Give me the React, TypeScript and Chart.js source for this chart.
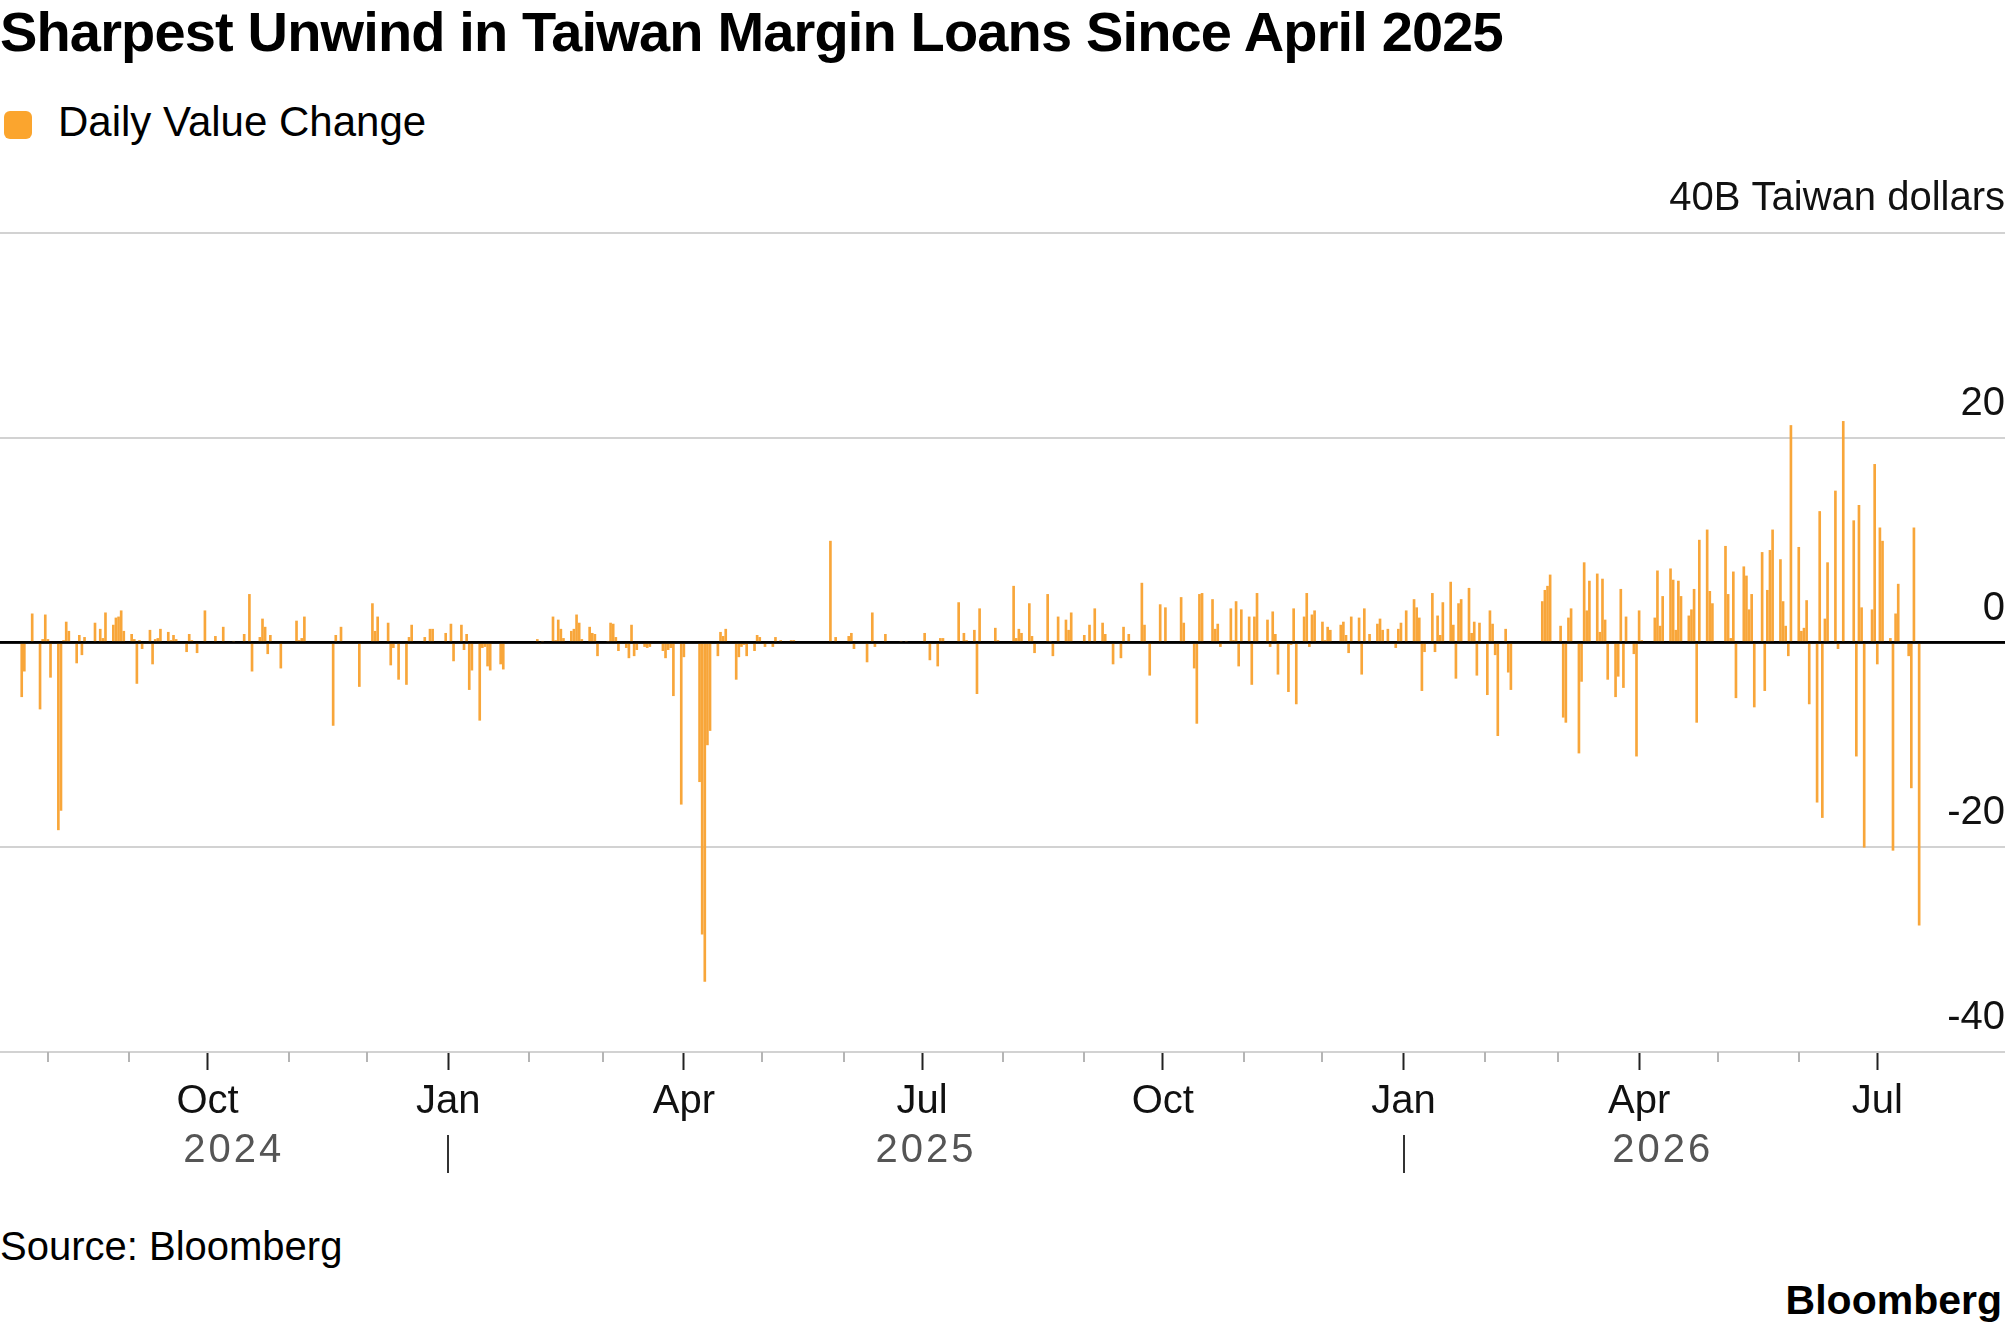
import React, { useEffect, useRef } from "react";
import { Chart, registerables } from "chart.js";

Chart.register(...registerables);

// ---- Data: [days since 2024-08-01, daily change in billions of Taiwan dollars] ----
const baseDate = "2024-08-01";

const bars2024: [number, number][] = [
  [-10, -5.3], [-9, -2.8], [-6, 2.8], [-3, -6.5], [-2, 0.3], [-1, 2.7], [0, 0.3], [1, -3.4],
  [4, -18.3], [5, -16.4], [6, 0.2], [7, 2.0], [8, 1.1], [11, -2.0], [12, 0.7], [13, -1.2], [14, 0.5],
  [18, 1.9], [20, 1.3], [21, 0.4], [22, 2.9], [25, 1.7], [26, 2.4], [27, 2.5], [28, 3.1], [29, 1.1],
  [32, 0.8], [33, 0.3], [34, -4.0], [35, 0.2], [36, -0.6], [39, 1.2], [40, -2.1], [41, 0.3], [42, 0.4],
  [43, 1.3], [46, 1.0], [47, 0.2], [48, 0.7], [49, 0.3], [53, -0.9], [54, 0.8], [55, 0.2], [57, -1.0],
  [60, 3.1], [64, 0.6], [67, 1.5], [71, 0.1], [75, 0.8], [77, 4.7], [78, -2.8], [81, 0.5], [82, 2.3],
  [83, 1.5], [84, -1.1], [85, 0.7], [89, -2.5], [95, 2.1], [96, 0.2], [97, 0.4], [98, 2.5],
  [109, -8.1], [110, 0.7], [112, 1.5], [119, -4.3], [124, 3.8], [125, 1.1], [126, 2.5], [130, 1.9],
  [131, -2.2], [132, -0.5], [134, -3.6], [137, -4.1], [138, 0.5], [139, 1.7], [144, 0.5], [146, 1.3],
  [147, 1.3], [152, 0.9],
];

const bars2025H1: [number, number][] = [
  [154, 1.8], [155, -1.8], [158, 1.7], [159, -0.7], [160, 0.8], [161, -4.6], [162, -2.7], [165, -7.6],
  [166, -0.5], [167, -0.4], [168, -2.3], [169, -2.7], [173, -2.1], [174, -2.6], [187, 0.3], [188, -0.1],
  [189, 0.1], [193, 2.5], [194, 0.2], [195, 2.2], [196, 1.3], [197, 0.4], [200, 1.1], [201, 1.3],
  [202, 2.7], [203, 1.9], [204, 0.3], [207, 1.5], [208, 0.9], [209, 0.8], [210, -1.3], [214, 0.1],
  [215, 1.9], [216, 1.8], [217, 0.5], [218, -0.8], [221, -0.5], [222, -1.5], [223, 1.7], [224, -1.3],
  [225, -0.7], [228, -0.4], [229, -0.5], [230, -0.4], [235, -0.8], [236, -1.5], [237, -0.7], [238, -0.5],
  [239, -5.2], [242, -15.8], [243, -1.4], [249, -13.6], [250, -28.5], [251, -33.1], [252, -10.0],
  [253, -8.6], [256, -1.3], [257, 1.0], [258, 0.6], [259, 1.3], [263, -3.6], [264, -1.4], [265, -0.4],
  [266, -0.2], [267, -1.3], [270, -0.8], [271, 0.7], [272, 0.5], [274, -0.4], [277, -0.4], [278, 0.5],
  [280, 0.2], [284, 0.2], [285, 0.2], [299, 9.9], [301, 0.5], [306, 0.6], [307, 0.9], [308, -0.6],
  [313, -1.9], [315, 2.9], [316, -0.4], [320, 0.8], [326, 0.1], [328, 0.1],
];

const bars2025H2: [number, number][] = [
  [335, 0.9], [337, -1.7], [340, -2.3], [341, 0.4], [342, 0.4], [348, 3.9], [350, 0.9], [351, 0.2],
  [354, 1.2], [355, -5.0], [356, 3.3], [362, 1.4], [363, 0.2], [369, 5.5], [370, 0.4], [371, 1.3],
  [372, 0.9], [375, 3.8], [376, 0.6], [377, -1.0], [382, 4.7], [383, 0.1], [384, -1.3], [386, 2.5],
  [389, 2.2], [390, 1.2], [391, 2.9], [396, 0.7], [398, 1.7], [400, 3.3], [403, 1.9], [404, 0.8],
  [407, -2.1], [410, -1.5], [411, 1.5], [413, 0.8], [418, 5.8], [419, 1.7], [421, -3.2], [425, 3.7],
  [427, 3.4], [433, 4.4], [434, 1.9], [438, -2.5], [439, -7.9], [440, 4.7], [441, 4.8], [445, 4.2],
  [446, 1.3], [447, 1.8], [448, -0.4], [452, 3.3], [453, 0.2], [454, 4.0], [455, -2.3], [456, 3.2],
  [459, 2.5], [460, -4.1], [461, 2.5], [462, 4.8], [466, 2.2], [467, -0.4], [468, 3.0], [469, 0.8],
  [470, -3.1], [474, -4.8], [475, -0.2], [476, 3.3], [477, -6.0], [480, 2.5], [481, 4.8], [482, -0.4],
  [483, 2.7], [484, 3.1], [487, 2.0], [488, 0.2], [489, 1.5], [490, 1.2], [494, 1.7], [495, 2.0],
  [496, 0.7], [497, -1.0], [498, 2.5], [501, 2.4], [502, -3.1], [503, 3.3], [505, 0.8], [508, 1.8],
  [509, 2.3], [510, 1.2], [512, 1.3], [515, -0.5], [516, 1.3], [517, 1.9],
];

const bars2026: [number, number][] = [
  [519, 3.1], [522, 4.2], [523, 3.4], [524, 2.4], [525, -4.7], [526, -0.9], [529, 4.8], [530, -0.9],
  [531, 2.6], [532, 0.7], [533, 3.9], [536, 5.9], [537, 1.7], [538, -3.5], [539, 3.8], [540, 4.2],
  [543, 5.3], [544, 0.9], [545, 2.0], [546, -3.2], [547, 1.9], [550, -5.1], [551, 3.1], [552, 1.8],
  [553, -1.2], [554, -9.1], [557, 1.3], [558, -2.9], [559, -4.6], [571, 4.0], [572, 5.1], [573, 5.5],
  [574, 6.6], [578, 1.6], [579, -7.3], [580, -7.8], [581, 2.4], [582, 3.3], [585, -10.8], [586, -3.8],
  [587, 7.8], [588, 3.1], [589, 6.0], [592, 6.7], [593, 1.0], [594, 6.2], [595, 2.2], [596, -3.6],
  [599, -5.3], [600, -3.3], [601, 5.2], [602, -4.4], [603, 2.5], [606, -1.1], [607, -11.1], [608, 3.1],
  [609, 0.2], [614, 2.4], [615, 7.0], [616, 1.6], [617, 4.5], [620, 7.2], [621, 6.1], [622, 1.2],
  [623, 6.0], [624, 4.5], [627, 2.6], [628, 3.2], [629, 5.2], [630, -7.8], [631, 10.0], [634, 11.0],
  [635, 5.0], [636, 3.8], [641, 9.4], [642, 4.7], [643, 0.4], [644, 6.9], [645, -5.4], [648, 7.4],
  [649, 6.5], [650, 3.2], [651, 4.7], [652, -6.3], [655, 8.8], [656, -4.7], [657, 5.1], [658, 9.0],
  [659, 11.0], [662, 8.1], [663, 4.0], [664, 1.6], [665, -1.3], [666, 21.2], [669, 9.3], [670, 1.1],
  [671, 1.4], [672, 4.1], [673, -6.0], [676, -15.6], [677, 12.8], [678, -17.1], [679, 2.3], [680, 7.8],
  [683, 14.8], [684, -0.6], [686, 21.6], [690, 11.9], [691, -11.1], [692, 13.4], [693, 3.4], [694, -20.0],
  [697, 3.2], [698, 17.4], [699, -2.1], [700, 11.2], [701, 9.9], [704, 0.4], [705, -20.3], [706, 2.8],
  [707, 5.7], [711, -1.3], [712, -14.2], [713, 11.2], [715, -27.6],
];

// ---- Axis text ----
const monthTicks = [
  "2024-08-01", "2024-09-01", "2024-10-01", "2024-11-01", "2024-12-01",
  "2025-01-01", "2025-02-01", "2025-03-01", "2025-04-01", "2025-05-01", "2025-06-01", "2025-07-01",
  "2025-08-01", "2025-09-01", "2025-10-01", "2025-11-01", "2025-12-01",
  "2026-01-01", "2026-02-01", "2026-03-01", "2026-04-01", "2026-05-01", "2026-06-01", "2026-07-01",
];
const monthLabels = [
  "", "", "Oct", "", "",
  "Jan", "", "", "Apr", "", "", "Jul",
  "", "", "Oct", "", "",
  "Jan", "", "", "Apr", "", "", "Jul",
];
const yearLabels = ["2024", "2025", "2026"];
const yearStarts = ["2024-01-01", "2025-01-01", "2026-01-01", "2027-01-01"];
const yTicks = [-40, -20, 0, 20, 40];
const yUnitLabel = "40B Taiwan dollars";
const title = "Sharpest Unwind in Taiwan Margin Loans Since April 2025";
const seriesName = "Daily Value Change";
const sourceText = "Source: Bloomberg";
const brandText = "Bloomberg";

const FONT = '"Liberation Sans", Arial, Helvetica, sans-serif';
const BAR = "#F8A63A";

const dayOf = (iso: string) =>
  Math.round((Date.parse(iso + "T00:00:00Z") - Date.parse(baseDate + "T00:00:00Z")) / 86400000);

export default function App() {
  const ref = useRef<HTMLCanvasElement | null>(null);

  useEffect(() => {
    if (!ref.current) return;
    const allBars = [...bars2024, ...bars2025H1, ...bars2025H2, ...bars2026];
    const monthDays = monthTicks.map(dayOf);
    const yearBounds = yearStarts.map(dayOf);

    // year label centres = middle of each year's data span
    const yearCenters = yearLabels.map((_, i) => {
      const inYear = allBars.filter(([d]) => d >= yearBounds[i] && d < yearBounds[i + 1]).map(([d]) => d);
      return (Math.min(...inYear) + Math.max(...inYear)) / 2;
    });

    const overlay = {
      id: "overlay",
      afterDatasetsDraw(chart: any) {
        const { ctx, chartArea, scales } = chart;
        const y0 = scales.y.getPixelForValue(0);
        ctx.save();
        ctx.strokeStyle = "#000";
        ctx.lineWidth = 2.5;
        ctx.beginPath();
        ctx.moveTo(chartArea.left, y0);
        ctx.lineTo(chartArea.right, y0);
        ctx.stroke();
        ctx.restore();
      },
      afterDraw(chart: any) {
        const { ctx, chartArea, scales } = chart;
        const xs = scales.x;
        const b = chartArea.bottom;
        ctx.save();
        // minor month ticks
        ctx.strokeStyle = "#b5b5b5";
        ctx.lineWidth = 2;
        monthDays.forEach((d, i) => {
          if (monthLabels[i]) return;
          const px = Math.round(xs.getPixelForValue(d));
          ctx.beginPath();
          ctx.moveTo(px, b);
          ctx.lineTo(px, b + 10);
          ctx.stroke();
        });
        // year separators
        ctx.strokeStyle = "#333";
        ctx.lineWidth = 2;
        yearBounds.slice(1, 3).forEach((d) => {
          const px = Math.round(xs.getPixelForValue(d));
          ctx.beginPath();
          ctx.moveTo(px, b + 83);
          ctx.lineTo(px, b + 121);
          ctx.stroke();
        });
        // year labels
        ctx.fillStyle = "#555";
        ctx.font = `40px ${FONT}`;
        ctx.textAlign = "center";
        ctx.textBaseline = "middle";
        try {
          (ctx as any).letterSpacing = "3px";
        } catch (e) {}
        yearLabels.forEach((t, i) => {
          ctx.fillText(t, xs.getPixelForValue(yearCenters[i]), b + 99);
        });
        ctx.restore();
      },
    };

    const chart = new Chart(ref.current, {
      type: "bar",
      data: {
        datasets: [
          {
            label: seriesName,
            data: allBars.map(([x, y]) => ({ x, y })),
            backgroundColor: BAR,
            borderWidth: 0,
            barThickness: 2,
          } as any,
        ],
      },
      options: {
        animation: false,
        responsive: false,
        maintainAspectRatio: false,
        layout: { padding: { top: 73, left: 0, right: 0, bottom: 0 } },
        plugins: { legend: { display: false }, tooltip: { enabled: false } },
        scales: {
          x: {
            type: "linear",
            min: -18.3,
            max: 747.8,
            offset: false,
            afterBuildTicks: (s: any) => {
              s.ticks = monthDays.map((v) => ({ value: v }));
            },
            afterFit: (s: any) => {
              s.height = 138;
            },
            grid: {
              display: true,
              offset: false,
              drawOnChartArea: false,
              drawTicks: true,
              tickLength: 18,
              tickWidth: 2,
              tickColor: (c: any) => (monthLabels[c.index] ? "#222" : "rgba(0,0,0,0)"),
            },
            border: { display: false },
            ticks: {
              autoSkip: false,
              maxRotation: 0,
              minRotation: 0,
              padding: 8,
              color: "#111",
              font: { family: FONT, size: 40 },
              callback: (_v: any, i: number) => monthLabels[i],
            },
          } as any,
          y: {
            type: "linear",
            position: "right",
            min: -40,
            max: 40,
            afterBuildTicks: (s: any) => {
              s.ticks = yTicks.map((v) => ({ value: v }));
            },
            afterFit: (s: any) => {
              s.width = 0;
            },
            grid: {
              drawTicks: false,
              color: (c: any) => (c.tick && c.tick.value === 0 ? "#000" : "#d2d2d2"),
              lineWidth: (c: any) => (c.tick && c.tick.value === 0 ? 2.5 : 2),
            },
            border: { display: false },
            ticks: {
              mirror: true,
              padding: 0,
              labelOffset: -34,
              color: "#111",
              font: { family: FONT, size: 40 },
              callback: (v: any) => (v === 40 ? yUnitLabel : String(v)),
            },
          } as any,
        },
      },
      plugins: [overlay],
    });
    return () => chart.destroy();
  }, []);

  return (
    <div
      style={{
        position: "absolute",
        left: 0,
        top: 0,
        width: 2005,
        height: 1329,
        background: "#fff",
        fontFamily: FONT,
        color: "#000",
        overflow: "hidden",
      }}
    >
      <div
        style={{
          position: "absolute",
          left: 0,
          top: 4,
          fontSize: 56,
          lineHeight: "56px",
          fontWeight: 700,
          letterSpacing: "-0.85px",
          whiteSpace: "nowrap",
        }}
      >
        {title}
      </div>
      <div
        style={{
          position: "absolute",
          left: 4,
          top: 111,
          width: 28,
          height: 28,
          borderRadius: 6,
          background: "#FBA52E",
        }}
      />
      <div
        style={{
          position: "absolute",
          left: 58,
          top: 101,
          fontSize: 42,
          lineHeight: "42px",
          whiteSpace: "nowrap",
        }}
      >
        {seriesName}
      </div>
      <canvas
        ref={ref}
        width={2005}
        height={1030}
        style={{ position: "absolute", left: 0, top: 160, width: 2005, height: 1030 }}
      />
      <div
        style={{
          position: "absolute",
          left: 0,
          top: 1226,
          fontSize: 40,
          lineHeight: "40px",
          whiteSpace: "nowrap",
        }}
      >
        {sourceText}
      </div>
      <div
        style={{
          position: "absolute",
          right: 3,
          top: 1280,
          fontSize: 41,
          lineHeight: "41px",
          fontWeight: 700,
          whiteSpace: "nowrap",
        }}
      >
        {brandText}
      </div>
    </div>
  );
}
